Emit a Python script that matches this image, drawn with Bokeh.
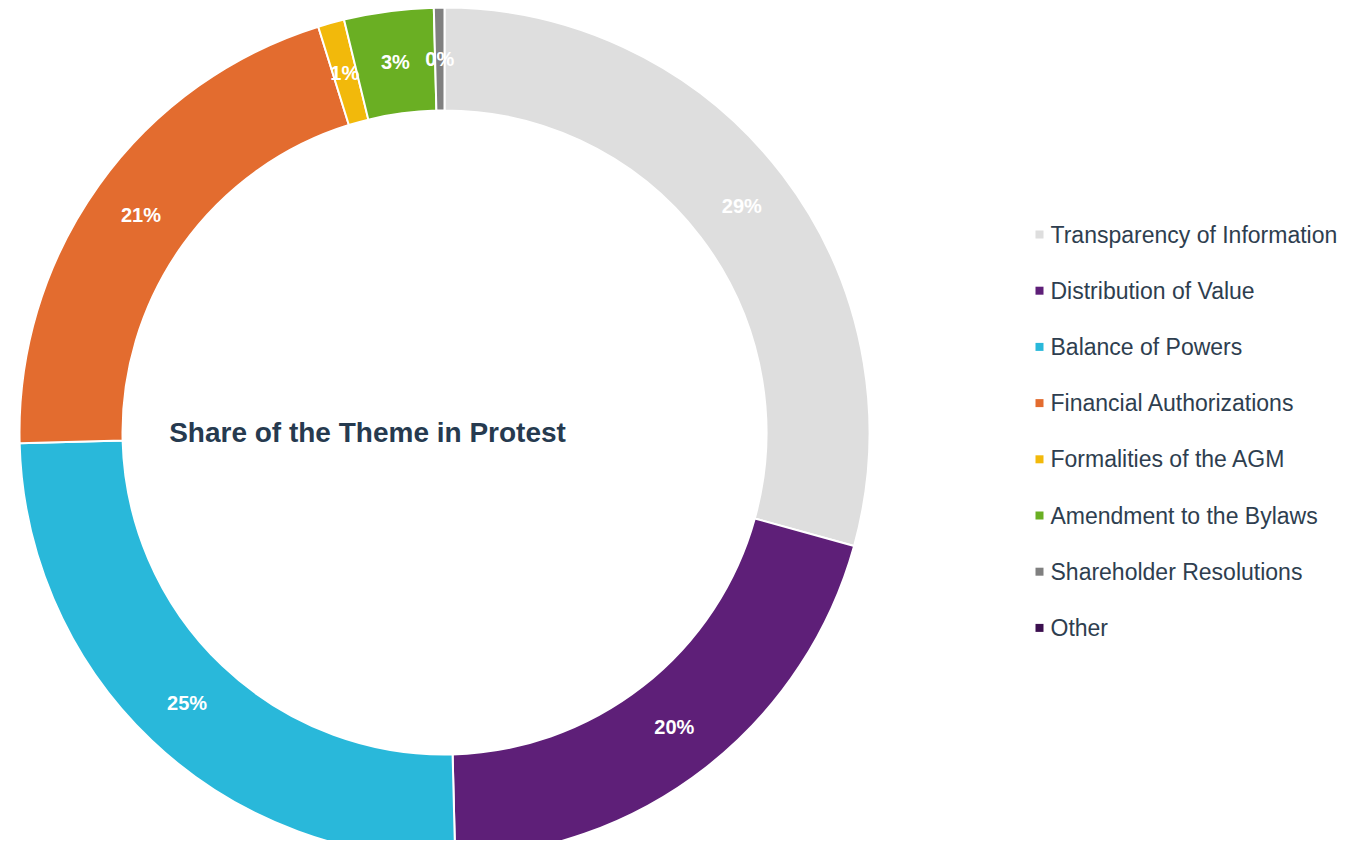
import math
from bokeh.plotting import figure
from bokeh.models import Range1d, ColumnDataSource
from bokeh.core.properties import value
from bokeh.embed import file_html
from bokeh.resources import INLINE

categories = ["Transparency of Information", "Distribution of Value", "Balance of Powers",
              "Financial Authorizations", "Formalities of the AGM", "Amendment to the Bylaws",
              "Shareholder Resolutions", "Other"]
shares = [29.3, 20.3, 25.0, 20.6, 1.0, 3.4, 0.4, 0.0]
colors = ["#DEDEDE", "#5E1F78", "#29B8DA", "#E36C2F", "#F2B90B", "#6AAF23", "#808080", "#3B0F4F"]
title_text = "Share of the Theme in Protest"

W, H = 1343, 840
p = figure(width=W, height=H, output_backend="svg", toolbar_location=None,
           x_range=Range1d(0, W), y_range=Range1d(856 - H, 856), min_border=0)
p.axis.visible = False
p.grid.visible = False
p.outline_line_color = None
p.background_fill_color = "white"
p.border_fill_color = "white"

cx, cy = 444, 856 - 432
r_in, r_out = 322, 425
total = sum(shares)
starts, ends, mids, wcol = [], [], [], []
cum = 0.0
for s, c in zip(shares, colors):
    a0 = math.pi / 2 - 2 * math.pi * cum / total
    cum += s
    a1 = math.pi / 2 - 2 * math.pi * cum / total
    mids.append((a0 + a1) / 2)
    if s > 0:
        starts.append(a0)
        ends.append(a1)
        wcol.append(c)

src = ColumnDataSource(dict(start=starts, end=ends, color=wcol))
p.annular_wedge(x=cx, y=cy, inner_radius=r_in, outer_radius=r_out,
                start_angle="start", end_angle="end", direction="clock",
                fill_color="color", line_color="white", line_width=2, source=src)

lx, ly, lt = [], [], []
r_lab = (r_in + r_out) / 2
for s, m in zip(shares, mids):
    if s <= 0:
        continue
    lx.append(cx + r_lab * math.cos(m))
    ly.append(cy + r_lab * math.sin(m))
    lt.append("%d%%" % round(s))
p.text(x=lx, y=ly, text=lt, text_color="white", text_font=value("Liberation Sans"),
       text_font_style="bold", text_font_size="20px", text_align="center",
       text_baseline="middle")

p.text(x=[367], y=[856 - 432], text=[title_text], text_color="#263A4F",
       text_font=value("Liberation Sans"), text_font_style="bold",
       text_font_size="28px", text_align="center", text_baseline="middle")

leg_y = [856 - (234 + 56.2 * i) for i in range(len(categories))]
p.rect(x=[1039] * len(categories), y=leg_y, width=8, height=8, fill_color=colors,
       line_color=None)
p.text(x=[1050] * len(categories), y=leg_y, text=categories, text_color="#2E3E4F",
       text_font=value("Liberation Sans"), text_font_size="23px",
       text_align="left", text_baseline="middle")

open("out.html", "w").write(file_html(p, INLINE))
